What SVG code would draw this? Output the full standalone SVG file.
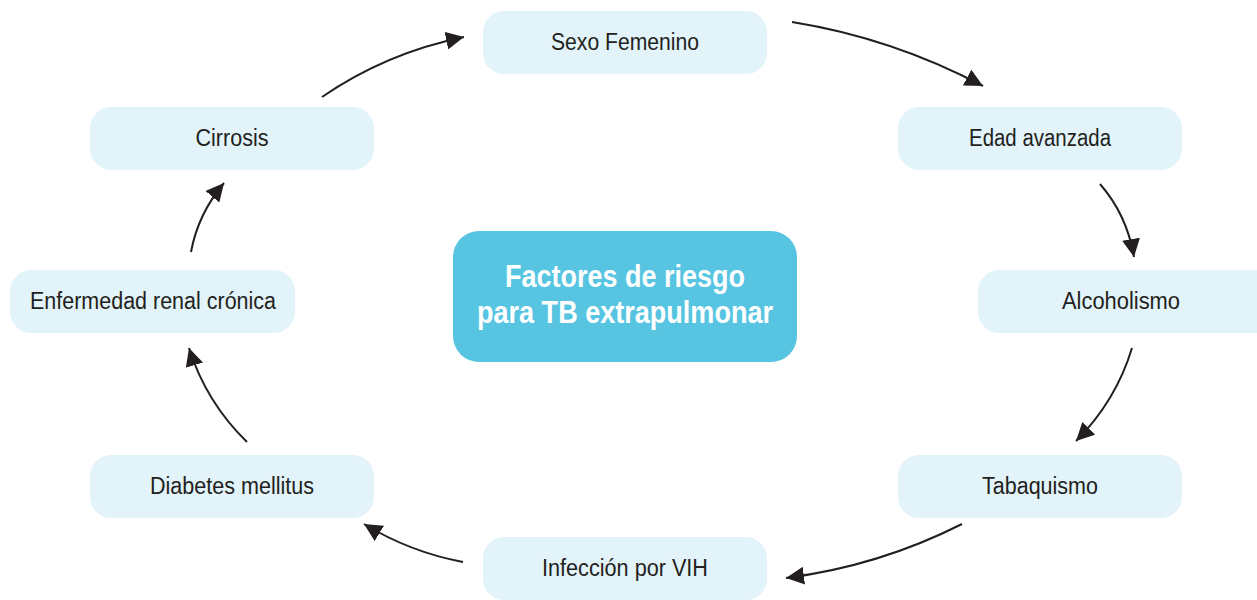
<svg xmlns="http://www.w3.org/2000/svg" width="1257" height="600" viewBox="0 0 1257 600">
<style>
.box{fill:#e2f3f9;}
.lbl{font-family:"Liberation Sans",Arial,sans-serif;font-size:23.5px;fill:#231f20;text-anchor:middle;}
.ctr{fill:#57c5e2;}
.ctxt{font-family:"Liberation Sans",Arial,sans-serif;font-size:31px;font-weight:bold;fill:#ffffff;text-anchor:middle;}
.arr{fill:none;stroke:#231f20;stroke-width:2;marker-end:url(#ah);}
</style>
<defs>
<marker id="ah" markerUnits="userSpaceOnUse" markerWidth="20" markerHeight="18" refX="18" refY="9" orient="auto">
<path d="M0,0 L18,9 L0,18 z" fill="#231f20"/>
</marker>
</defs>
<rect width="1257" height="600" fill="#ffffff"/>
<g id="connectors">
<path class="arr" d="M322,97 Q386,53 464,37"/>
<path class="arr" d="M792,22 Q892,38 983,86"/>
<path class="arr" d="M1100,184 Q1127,215 1134,257"/>
<path class="arr" d="M1132,348 Q1116,401 1076,441"/>
<path class="arr" d="M962,524 Q879,566 786,578"/>
<path class="arr" d="M463,562 Q410,552 364,524"/>
<path class="arr" d="M247,442 Q206,402 189,348"/>
<path class="arr" d="M191,252 Q198,214 224,183"/>
</g>
<g id="center">
<rect class="ctr" x="453" y="231" width="344" height="131" rx="26"/>
<text class="ctxt" x="625" y="287" textLength="240" lengthAdjust="spacingAndGlyphs">Factores de riesgo</text>
<text class="ctxt" x="625" y="323" textLength="296" lengthAdjust="spacingAndGlyphs">para TB extrapulmonar</text>
</g>
<g id="sexo">
<rect class="box" x="483" y="11" width="284" height="63" rx="21"/>
<text class="lbl" x="625" y="50" textLength="148" lengthAdjust="spacingAndGlyphs">Sexo Femenino</text>
</g>
<g id="edad">
<rect class="box" x="898" y="107" width="284" height="63" rx="21"/>
<text class="lbl" x="1040" y="146" textLength="142" lengthAdjust="spacingAndGlyphs">Edad avanzada</text>
</g>
<g id="alcoholismo">
<rect class="box" x="978" y="270" width="300" height="63" rx="21"/>
<text class="lbl" x="1121" y="309" textLength="118" lengthAdjust="spacingAndGlyphs">Alcoholismo</text>
</g>
<g id="tabaquismo">
<rect class="box" x="898" y="455" width="284" height="63" rx="21"/>
<text class="lbl" x="1040" y="494" textLength="116" lengthAdjust="spacingAndGlyphs">Tabaquismo</text>
</g>
<g id="vih">
<rect class="box" x="483" y="537" width="284" height="63" rx="21"/>
<text class="lbl" x="625" y="576" textLength="166" lengthAdjust="spacingAndGlyphs">Infección por VIH</text>
</g>
<g id="diabetes">
<rect class="box" x="90" y="455" width="284" height="63" rx="21"/>
<text class="lbl" x="232" y="494" textLength="164" lengthAdjust="spacingAndGlyphs">Diabetes mellitus</text>
</g>
<g id="erc">
<rect class="box" x="10" y="270" width="285" height="63" rx="21"/>
<text class="lbl" x="153" y="309" textLength="246" lengthAdjust="spacingAndGlyphs">Enfermedad renal crónica</text>
</g>
<g id="cirrosis">
<rect class="box" x="90" y="107" width="284" height="63" rx="21"/>
<text class="lbl" x="232" y="146" textLength="73" lengthAdjust="spacingAndGlyphs">Cirrosis</text>
</g>
</svg>
